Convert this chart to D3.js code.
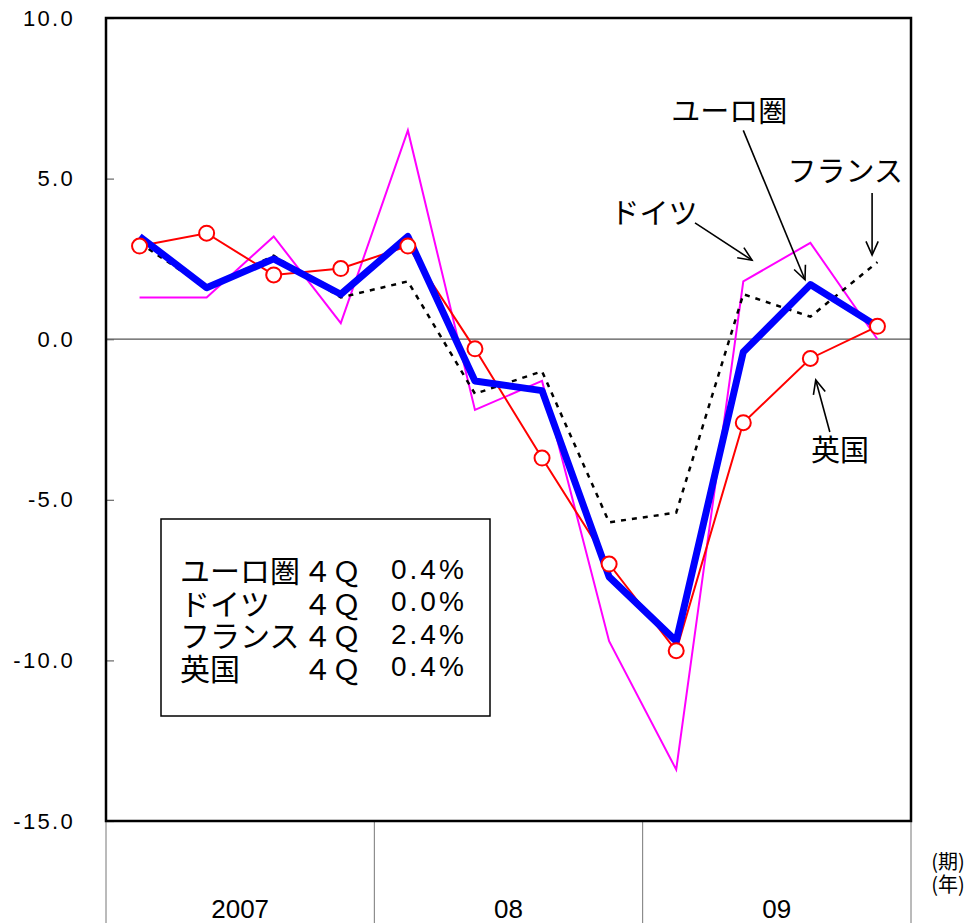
<!DOCTYPE html>
<html lang="ja">
<head>
<meta charset="UTF-8">
<title>GDP</title>
<script src="https://d3js.org/d3.v7.min.js"></script>
<style>
  body { margin: 0; background: #fff; }
  .num { font-family: "Liberation Sans", Arial, sans-serif; }
  .jp { font-family: "Noto Sans CJK JP", sans-serif; }
</style>
</head>
<body>
<svg width="973" height="923"></svg>
<script>
// quarters 2007Q1 .. 2009Q4
var quarters = ["07Q1","07Q2","07Q3","07Q4","08Q1","08Q2","08Q3","08Q4","09Q1","09Q2","09Q3","09Q4"];
var years = ["2007", "08", "09"];
var yTicks = [10, 5, 0, -5, -10, -15];

var euro    = [3.2, 1.6, 2.5, 1.4, 3.2, -1.3, -1.6, -7.4, -9.4, -0.4, 1.7, 0.4];
var germany = [1.3, 1.3, 3.2, 0.5, 6.5, -2.2, -1.3, -9.4, -13.4, 1.8, 3.0, 0.0];
var france  = [3.0, 1.6, 2.6, 1.3, 1.8, -1.7, -1.0, -5.7, -5.4, 1.4, 0.7, 2.4];
var uk      = [2.9, 3.3, 2.0, 2.2, 2.9, -0.3, -3.7, -7.0, -9.7, -2.6, -0.6, 0.4];

var legendNames = ["ユーロ圏", "ドイツ", "フランス", "英国"];
var legendValues = ["0.4%", "0.0%", "2.4%", "0.4%"];

var svg = d3.select("svg");
var pL = 106, pR = 911, pT = 18, pB = 821;

var x = d3.scaleBand().domain(quarters).range([pL, pR]);
var xc = function(i) { return x(quarters[i]) + x.bandwidth() / 2; };
// fractional quarter position for the annotations
var xi = d3.scaleLinear().domain([-0.5, 11.5]).range([pL, pR]);
var y = d3.scaleLinear().domain([-15, 10]).range([pB, pT]);
var xYear = d3.scaleBand().domain(years).range([pL, pR]);

// zero line
svg.append("line")
  .attr("x1", pL).attr("x2", pR)
  .attr("y1", y(0)).attr("y2", y(0))
  .attr("stroke", "#555").attr("stroke-width", 1.2);

// y axis
var yAxis = d3.axisLeft(y).tickValues(yTicks)
  .tickSizeInner(-8).tickSizeOuter(0).tickPadding(31)
  .tickFormat(function(d) { return d.toFixed(1); });
var ga = svg.append("g").attr("transform", "translate(" + pL + ",0)").call(yAxis);
ga.select(".domain").remove();
ga.selectAll(".tick line").attr("stroke", "#666").attr("stroke-width", 1.2);
ga.selectAll(".tick text")
  .attr("class", "num")
  .style("font-size", "22px")
  .style("letter-spacing", "2.3px")
  .attr("fill", "#000");

// year separators below the plot
svg.selectAll(".sep").data(d3.range(years.length + 1)).enter().append("line")
  .attr("x1", function(d) { return d < years.length ? xYear(years[d]) : pR; })
  .attr("x2", function(d) { return d < years.length ? xYear(years[d]) : pR; })
  .attr("y1", pB).attr("y2", 923)
  .attr("stroke", "#777").attr("stroke-width", 1);

svg.selectAll(".year").data(years).enter().append("text")
  .attr("class", "num")
  .attr("x", function(d) { return xYear(d) + xYear.bandwidth() / 2; })
  .attr("y", 918)
  .attr("text-anchor", "middle")
  .style("font-size", "26px")
  .text(function(d) { return d; });

svg.append("text").attr("class", "jp").attr("x", 948).attr("y", 869)
  .attr("text-anchor", "middle").style("font-size", "20px").text("(期)");
svg.append("text").attr("class", "jp").attr("x", 948).attr("y", 892)
  .attr("text-anchor", "middle").style("font-size", "20px").text("(年)");

var line = d3.line().x(function(d, i) { return xc(i); }).y(function(d) { return y(d); });

svg.append("path").datum(germany).attr("d", line)
  .attr("fill", "none").attr("stroke", "#ff00ff").attr("stroke-width", 2);
svg.append("path").datum(france).attr("d", line)
  .attr("fill", "none").attr("stroke", "#000").attr("stroke-width", 2.5)
  .attr("stroke-dasharray", "5,6");
svg.append("path").datum(uk).attr("d", line)
  .attr("fill", "none").attr("stroke", "#ff0000").attr("stroke-width", 2);
svg.append("path").datum(euro).attr("d", line)
  .attr("fill", "none").attr("stroke", "#0000ff").attr("stroke-width", 7)
  .attr("stroke-linejoin", "round");
svg.selectAll(".ukpt").data(uk).enter().append("circle")
  .attr("cx", function(d, i) { return xc(i); })
  .attr("cy", function(d) { return y(d); })
  .attr("r", 7.5)
  .attr("fill", "#fff").attr("stroke", "#ff0000").attr("stroke-width", 2);

// frame
svg.append("rect")
  .attr("x", pL).attr("y", pT)
  .attr("width", pR - pL).attr("height", pB - pT)
  .attr("fill", "none").attr("stroke", "#000").attr("stroke-width", 2.5);

// annotations: [label, label pos (quarter idx, value), arrow tail, arrow head]
var notes = [
  ["ユーロ圏", [8.79, 7.17], [9.0, 6.5], [9.92, 1.85]],
  ["フランス", [10.52, 5.31], [10.92, 4.55], [10.92, 2.62]],
  ["ドイツ", [7.67, 3.99], [8.28, 3.62], [9.13, 2.46]],
  ["英国", [10.44, -3.39], [10.29, -2.89], [10.08, -1.27]]
];
notes.forEach(function(n) {
  svg.append("text").attr("class", "jp")
    .attr("x", xi(n[1][0])).attr("y", y(n[1][1]))
    .attr("text-anchor", "middle").attr("dominant-baseline", "central")
    .style("font-size", "29px").text(n[0]);
  var x1 = xi(n[2][0]), y1 = y(n[2][1]), x2 = xi(n[3][0]), y2 = y(n[3][1]);
  var a = Math.atan2(y2 - y1, x2 - x1), L = 15, s = 0.42;
  svg.append("line").attr("x1", x1).attr("y1", y1).attr("x2", x2).attr("y2", y2)
    .attr("stroke", "#000").attr("stroke-width", 1.6);
  svg.append("path")
    .attr("d", "M" + (x2 - L * Math.cos(a - s)) + "," + (y2 - L * Math.sin(a - s)) +
      "L" + x2 + "," + y2 +
      "L" + (x2 - L * Math.cos(a + s)) + "," + (y2 - L * Math.sin(a + s)))
    .attr("fill", "none").attr("stroke", "#000").attr("stroke-width", 1.6);
});

// legend box
var lg = svg.append("g");
lg.append("rect").attr("x", 161).attr("y", 519).attr("width", 329).attr("height", 197)
  .attr("fill", "#fff").attr("stroke", "#000").attr("stroke-width", 1.5);
legendNames.forEach(function(nm, i) {
  var cy = 569 + i * 32.5;
  lg.append("text").attr("class", "jp").attr("x", 180).attr("y", cy)
    .attr("dominant-baseline", "central").style("font-size", "30px").text(nm);
  lg.append("text").attr("class", "jp").attr("x", 303).attr("y", cy)
    .attr("dominant-baseline", "central").style("font-size", "29px").text("４Ｑ");
  lg.append("text").attr("class", "num").attr("x", 391).attr("y", cy)
    .attr("dominant-baseline", "central").style("font-size", "28px")
    .style("letter-spacing", "3px").text(legendValues[i]);
});
</script>
</body>
</html>
